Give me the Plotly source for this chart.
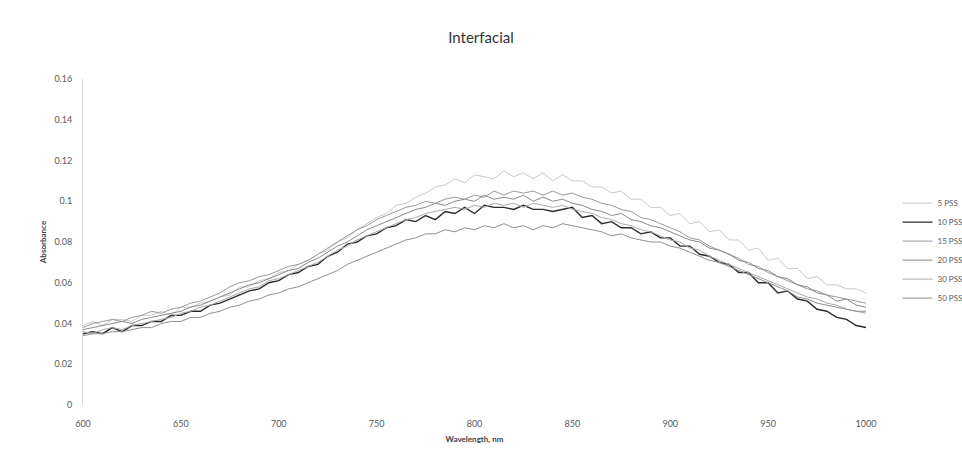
import plotly.graph_objects as go

wavelength = list(range(600, 1001, 5))

pss5 = [.039, .041, .039, .042, .042, .041, .044, .044, .046, .044, .048, .048, .050, .051, .053, .054, .058, .058, .061, .062,
        .065, .066, .069, .071, .074, .076, .080, .082, .086, .089, .092, .094, .098, .099, .102, .104, .107, .108, .111, .109,
        .113, .112, .111, .115, .112, .114, .111, .114, .110, .113, .110, .110, .107, .107, .104, .105, .101, .101, .097, .097,
        .093, .094, .089, .090, .085, .086, .081, .081, .076, .077, .071, .072, .067, .067, .062, .063, .059, .059, .057, .057, .055]

pss10 = [.035, .036, .035, .038, .036, .039, .039, .041, .041, .044, .044, .046, .046, .049, .050, .052, .054, .056, .057, .060,
         .061, .064, .065, .068, .069, .073, .075, .079, .080, .083, .084, .087, .088, .091, .090, .093, .091, .095, .094, .097,
         .094, .098, .097, .097, .096, .098, .096, .096, .095, .096, .097, .092, .093, .089, .090, .087, .087, .084, .085, .082,
         .082, .078, .078, .074, .073, .070, .069, .065, .065, .060, .060, .055, .056, .052, .051, .047, .046, .043, .042, .039, .038]

pss15 = [.038, .040, .041, .042, .041, .043, .044, .046, .045, .047, .048, .050, .051, .053, .055, .058, .060, .061, .063, .064,
         .066, .068, .069, .071, .074, .077, .080, .083, .086, .088, .091, .093, .095, .097, .098, .100, .099, .101, .102, .101,
         .103, .102, .105, .103, .105, .104, .105, .103, .105, .103, .104, .102, .101, .099, .098, .096, .095, .092, .091, .089,
         .087, .085, .082, .081, .078, .076, .074, .072, .069, .068, .065, .063, .061, .059, .057, .056, .054, .053, .052, .051, .050]

pss20 = [.037, .038, .039, .040, .041, .040, .042, .043, .044, .045, .046, .048, .049, .051, .053, .055, .057, .059, .060, .062,
         .064, .066, .067, .070, .072, .075, .078, .080, .083, .086, .088, .090, .092, .094, .096, .097, .099, .098, .100, .101,
         .100, .103, .101, .102, .101, .103, .100, .102, .100, .101, .099, .098, .096, .095, .093, .094, .091, .090, .088, .087,
         .085, .083, .081, .080, .077, .076, .074, .071, .070, .067, .066, .063, .062, .059, .058, .055, .054, .051, .052, .049, .048]

pss30 = [.036, .035, .037, .038, .037, .039, .040, .041, .042, .043, .045, .046, .048, .049, .051, .053, .055, .057, .058, .061,
         .062, .064, .066, .068, .070, .073, .076, .078, .081, .083, .085, .087, .089, .091, .092, .094, .095, .096, .097, .096,
         .098, .097, .099, .098, .099, .097, .099, .098, .097, .098, .096, .095, .094, .092, .091, .089, .088, .086, .085, .083,
         .081, .080, .077, .076, .073, .071, .069, .067, .065, .063, .061, .059, .057, .055, .053, .052, .050, .049, .047, .046, .045]

pss50 = [.034, .035, .035, .036, .036, .037, .038, .038, .040, .041, .041, .043, .043, .045, .046, .048, .049, .051, .052, .054,
         .055, .057, .058, .060, .062, .064, .066, .069, .071, .073, .075, .077, .079, .081, .082, .084, .084, .086, .085, .087,
         .086, .088, .087, .089, .087, .088, .086, .088, .087, .089, .088, .087, .086, .085, .083, .084, .082, .081, .080, .080,
         .078, .077, .075, .073, .071, .070, .068, .066, .064, .062, .060, .058, .056, .053, .052, .050, .049, .048, .047, .046, .046]

series_names = ["5 PSS", "10 PSS", "15 PSS", "20 PSS", "30 PSS", "50 PSS"]
series_values = [pss5, pss10, pss15, pss20, pss30, pss50]
series_colors = ["#c8c8c8", "#2b2b2b", "#9a9a9a", "#8a8a8a", "#a8a8a8", "#8f8f8f"]
series_widths = [1, 1.4, 1, 1, 1, 1]

fig = go.Figure()
for name, vals, col, w in zip(series_names, series_values, series_colors, series_widths):
    fig.add_trace(go.Scatter(x=wavelength, y=vals, mode="lines", name=name,
                             line=dict(color=col, width=w)))

font_family = "Lato, 'Open Sans', sans-serif"
fig.update_layout(
    width=962, height=460,
    margin=dict(l=83, r=96, t=79, b=55, autoexpand=False),
    paper_bgcolor="white", plot_bgcolor="white",
    title=dict(text="Interfacial", x=0.5, xref="container", xanchor="center", y=0.917, yanchor="middle",
               font=dict(family=font_family, size=15, color="#333333")),
    font=dict(family=font_family, size=9, color="#595959"),
    showlegend=True,
    legend=dict(xref="container", yref="container", x=0.933, xanchor="left", y=0.59, yanchor="top",
                font=dict(size=8, color="#595959"),
                tracegroupgap=0, itemwidth=30, bgcolor="rgba(0,0,0,0)"),
    xaxis=dict(range=[600, 1000], dtick=50, tick0=600, showgrid=False, zeroline=False, showline=False,
               ticks="", ticklabelstandoff=12,
               title=dict(text="<b>Wavelength, nm</b>", font=dict(size=8, color="#404040"), standoff=8)),
    yaxis=dict(range=[0, 0.16], dtick=0.02, tick0=0, showgrid=False, zeroline=False, showline=True,
               linecolor="#d9d9d9", linewidth=1, ticks="", ticklabelstandoff=8,
               title=dict(text="<b>Absorbance</b>", font=dict(size=8, color="#404040"), standoff=6)),
)

fig.write_html("out.html")
